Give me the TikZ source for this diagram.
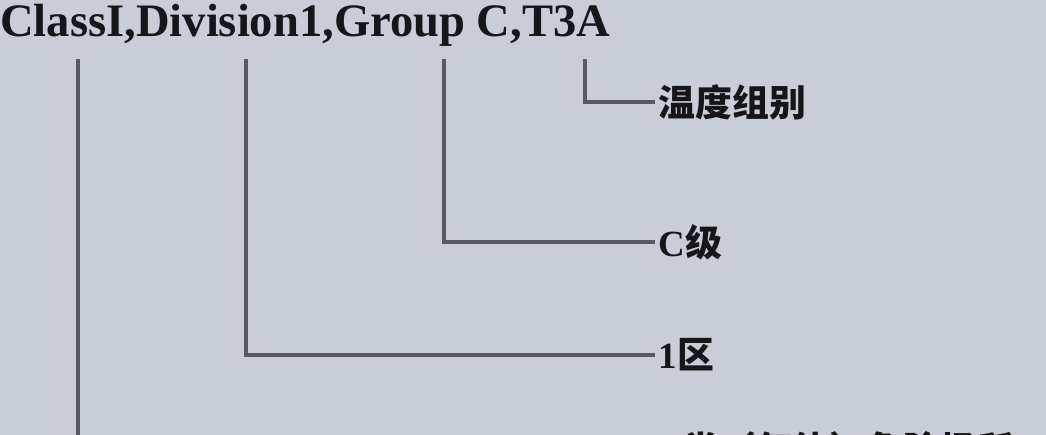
\documentclass[tikz,border=0pt]{standalone}
\usepackage{fontspec}
\setmainfont{Liberation Serif}
\newfontfamily\cjk{Noto Sans CJK SC}
\usepackage{xcolor}
\usepackage{tikz}

\definecolor{bgcol}{RGB}{201,205,215}
\definecolor{leadcol}{RGB}{88,90,98}
\definecolor{inkcol}{RGB}{22,22,24}

\begin{document}
\begin{tikzpicture}[x=0.02cm, y=-0.02cm,
    lead/.style={line width=1.9pt, leadcol},
    lbl/.style={anchor=west, inner xsep=2pt, inner ysep=0pt, text=inkcol,
                font=\fontsize{21}{21}\selectfont\bfseries}]
        % Background and frame
        \fill[bgcol] (0,0) rectangle (1046,435);
        \useasboundingbox (0,0) rectangle (1046,435);

        % The marking string
        \node[anchor=base west, inner sep=0pt, text=inkcol,
              font=\fontsize{26.5}{26.5}\selectfont\bfseries] (mark) at (0,37)
              {ClassI,Division1,Group C,T3A};

        % Tops of the leaders, under each part
        \coordinate (tClass) at (78,59);
        \coordinate (tDiv) at (246,59);
        \coordinate (tGroup) at (444,59);
        \coordinate (tTemp) at (585,59);

        % Meanings
        \node[lbl] (temp) at (655,102) {\cjk 温度组别};
        \node[lbl] (group) at (655,242) {C{\cjk 级}};
        \node[lbl] (div) at (655,355) {1{\cjk 区}};
        \node[lbl] (class) at (664,449) {I{\cjk 类（气体）危险场所}};

        % Leaders
        \draw[lead] (tTemp) |- (temp.west);
        \draw[lead] (tGroup) |- (group.west);
        \draw[lead] (tDiv) |- (div.west);
        \draw[lead] (tClass) |- (class.west);
    \end{tikzpicture}
\end{document}
